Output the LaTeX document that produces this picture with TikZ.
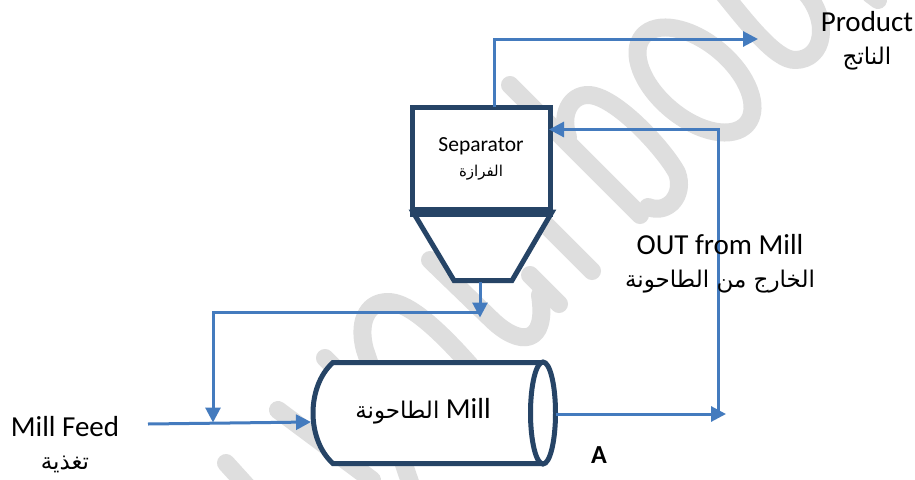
\documentclass[tikz,border=0pt]{standalone}
\usepackage{fontspec}
\setmainfont{Carlito}
\newfontfamily\arabicfont[Script=Arabic]{DejaVu Sans}
\TeXXeTstate=1
\usetikzlibrary{arrows.meta}
\definecolor{navy}{HTML}{264466}
\definecolor{flow}{HTML}{447BBE}
\definecolor{wm}{HTML}{DEDEDE}
\newcommand{\ar}[1]{{\arabicfont\beginR #1\endR}}
\tikzset{
  flowline/.style={draw=flow,line width=3pt,-{Triangle[length=15pt,width=15pt]},line join=miter},
  vessel/.style={draw=navy,line width=5pt,fill=white},
  wmark/.style={draw=wm,line width=18pt,line cap=round,line join=round},
  lbl/.style={inner sep=0pt,text=black,align=center},
  big/.style={font=\fontsize{29}{31}\selectfont},
  bigar/.style={font=\fontsize{23}{26}\selectfont},
}
\begin{document}
\begin{tikzpicture}[x=1pt,y=-1pt]
\useasboundingbox[fill=white] (0,0) rectangle (915,479);
% watermark
\draw[wmark] (510,85) -- (640,215);
\draw[wmark] (500,179) -- (592,271);
\draw[wmark] (530,275) -- (559,304);
\draw[wmark] (430,260) -- (490,318) .. controls (520,348) and (548,345) .. (540,295);
\draw[wmark] (470,365) .. controls (430,320) and (405,302) .. (388,302) .. controls (365,302) and (358,325) .. (365,350) -- (412,488);
\draw[wmark] (325,358) -- (400,433);
\draw[wmark] (278,410) -- (372,480);
\draw[wmark] (226,463) -- (255,495);
\draw[wmark] (568,137) .. controls (560,115) and (570,95) .. (588,95) .. controls (615,95) and (665,150) .. (677,173) .. controls (685,195) and (668,215) .. (648,207);
\draw[wmark,rotate around={-40:(695,80)}] (695,80) ellipse [x radius=68,y radius=38];
\draw[wmark] (722,-8) .. controls (745,20) and (775,60) .. (795,60) .. controls (825,60) and (830,20) .. (805,-8);
\draw[wmark] (870,-6) -- (878,0);
% separator
\path[vessel] (413,212) -- (454,280.5) -- (512,280.5) -- (552,212) -- cycle;
\node[vessel,outer sep=0pt,minimum width=138pt,minimum height=102pt,inner sep=0pt,anchor=north west] (sep) at (412.5,107.5) {};
\draw[navy,line width=9pt] (410,212) -- (553,212);
\node[lbl,font=\fontsize{21.5}{24}\selectfont] (septxt) at (481,146) {Separator};
\node[lbl,font=\fontsize{15}{18}\selectfont] (separ) at (481,173) {\ar{الفرازة}};
% mill
\path[vessel] (543,362.5) -- (333,362.5) .. controls (319,375) and (313,395) .. (313,413) .. controls (313,431) and (319,451) .. (333,463.5) -- (543,463.5);
\draw[vessel] (543,413) ellipse [x radius=12.5,y radius=51];
\node[lbl] (mill) at (423,411) {\fontsize{23}{26}\selectfont\ar{الطاحونة}\fontsize{29}{31}\selectfont{} Mill};
% anchors
\coordinate (top) at (494,107);
\coordinate (c1) at (494,39);
\coordinate (prod) at (758,39);
\coordinate (hopout) at (480,282);
\coordinate (hoptip) at (480,317.5);
\coordinate (hopj) at (480,312);
\coordinate (c2) at (213,312);
\coordinate (feedj) at (213,422.5);
\coordinate (feed) at (148,424);
\coordinate (millin) at (311,422);
\coordinate (millout) at (556,414);
\coordinate (outj) at (726,414);
\coordinate (c3) at (718,414);
\coordinate (c4) at (718,129.5);
\coordinate (sepin) at (549,129.5);
% flows
\draw[flowline] (top) -- (c1) -- (prod);
\draw[flowline] (hopout) -- (hoptip);
\draw[flowline] (hopj) -- (c2) -- (feedj);
\draw[flowline] (feed) -- (millin);
\draw[flowline] (millout) -- (outj);
\draw[flowline] (c3) -- (c4) -- (sepin);
% labels
\node[lbl,big] (product) at (867,22) {Product};
\node[lbl,bigar] (productar) at (867,59) {\ar{الناتج}};
\node[lbl,big] (outl) at (720,245) {OUT from Mill};
\node[lbl,bigar] (outar) at (720,282) {\ar{الخارج من الطاحونة}};
\node[lbl,big] (feedl) at (65,427) {Mill Feed};
\node[lbl,bigar] (feedar) at (65,464) {\ar{تغذية}};
\node[lbl,font=\bfseries\fontsize{26}{28}\selectfont] (a) at (599,455) {A};
\end{tikzpicture}
\end{document}
